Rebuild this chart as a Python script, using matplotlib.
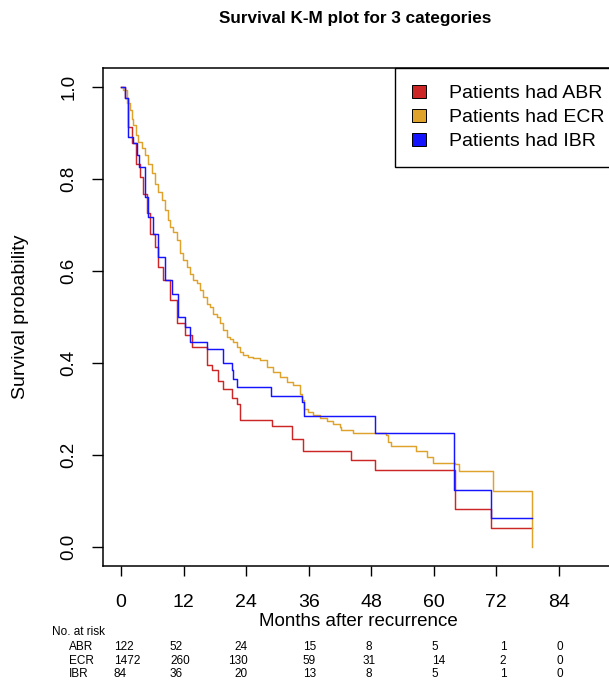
import matplotlib
matplotlib.use('Agg')
import matplotlib.pyplot as plt
from matplotlib.patches import Patch
from matplotlib.transforms import blended_transform_factory

plt.rcParams['font.family'] = ['Liberation Sans', 'DejaVu Sans']

# Kaplan-Meier step points (months, survival)
abr_t = [0, 0.77, 1.40, 2.05, 2.88, 3.64, 4.28, 4.93, 5.56, 6.52, 7.15, 8.11, 9.40, 10.68,
         12.27, 13.56, 16.44, 17.40, 18.66, 19.62, 21.23, 22.19, 22.82, 28.9, 32.74,
         34.96, 44.06, 48.71, 64.06, 70.96, 78.77]
abr_s = [1.0, 0.975, 0.913, 0.877, 0.833, 0.804, 0.768, 0.725, 0.681, 0.652, 0.609, 0.580,
         0.536, 0.486, 0.460, 0.435, 0.395, 0.384, 0.362, 0.344, 0.323, 0.312, 0.277, 0.264,
         0.236, 0.209, 0.190, 0.167, 0.083, 0.041, 0.041]

ecr_t = [0, 0.45, 1.09, 1.73, 2.05, 2.37, 2.88, 3.32, 3.96, 4.60, 5.24, 5.88, 6.52, 7.16,
         7.80, 8.44, 9.08, 9.40, 10.04, 10.68, 11.32, 11.95, 12.59, 13.23, 13.87, 14.51,
         15.15, 15.79, 16.43, 17.07, 17.71, 18.35, 18.99, 19.63, 20.27, 20.91, 21.54, 22.18,
         22.82, 23.46, 24.42, 25.38, 26.66, 27.94, 29.22, 30.49, 31.77, 33.05, 34.33, 34.65,
         35.10, 35.93, 36.89, 38.17, 39.45, 40.72, 42.00, 42.3, 44.56, 50.8, 51.2, 51.78,
         56.58, 58.63, 59.78, 64.06, 64.8, 71.29, 78.77]
ecr_s = [1.0, 0.993, 0.964, 0.949, 0.931, 0.917, 0.895, 0.880, 0.868, 0.852, 0.833, 0.812,
         0.790, 0.772, 0.754, 0.732, 0.710, 0.696, 0.685, 0.667, 0.638, 0.623, 0.609, 0.594,
         0.580, 0.573, 0.558, 0.544, 0.529, 0.522, 0.507, 0.500, 0.486, 0.471, 0.457, 0.453,
         0.446, 0.435, 0.424, 0.417, 0.413, 0.410, 0.406, 0.391, 0.380, 0.370, 0.359, 0.352,
         0.333, 0.319, 0.301, 0.294, 0.286, 0.281, 0.275, 0.268, 0.261, 0.255, 0.249, 0.243,
         0.228, 0.220, 0.208, 0.196, 0.183, 0.180, 0.165, 0.123, 0.0]

ibr_t = [0, 0.77, 1.40, 2.36, 3.01, 3.51, 4.60, 5.24, 6.19, 7.15, 8.44, 9.72, 10.99, 12.27,
         13.23, 16.44, 19.50, 19.62, 21.23, 21.54, 22.30, 28.77, 34.65, 35.10, 48.71, 63.9,
         70.96, 78.77]
ibr_s = [1.0, 0.975, 0.891, 0.877, 0.852, 0.826, 0.761, 0.717, 0.681, 0.630, 0.580, 0.551,
         0.500, 0.478, 0.446, 0.431, 0.415, 0.399, 0.384, 0.366, 0.348, 0.329, 0.315, 0.285,
         0.249, 0.125, 0.063, 0.063]

groups = ['ABR', 'ECR', 'IBR']
legend_labels = ['Patients had ABR', 'Patients had ECR', 'Patients had IBR']
colors = ['#CD2626', '#DFA22A', '#1414FF']

risk_times = [0, 12, 24, 36, 48, 60, 72, 84]
risk_abr = [122, 52, 24, 15, 8, 5, 1, 0]
risk_ecr = [1472, 260, 130, 59, 31, 14, 2, 0]
risk_ibr = [84, 36, 20, 13, 8, 5, 1, 0]

W, H = 609, 688
fig = plt.figure(figsize=(W / 100, H / 100), dpi=100)
ax = fig.add_axes([103 / W, 1 - 566 / H, (612 - 103) / W, (566 - 68) / H])

for t, s, c in zip([abr_t, ecr_t, ibr_t], [abr_s, ecr_s, ibr_s], colors):
    ax.step(t, s, where='post', color=c, linewidth=1.05)

ax.set_xlim(-3.45, 94.2)
ax.set_ylim(-0.041, 1.041)
ax.set_xticks(risk_times)
ax.set_yticks([0.0, 0.2, 0.4, 0.6, 0.8, 1.0])
ax.set_yticklabels(['0.0', '0.2', '0.4', '0.6', '0.8', '1.0'])
ax.tick_params(axis='x', direction='out', length=7.5, width=1.0, pad=13, labelsize=14)
ax.tick_params(axis='y', direction='out', length=8, width=1.0, pad=10.5, labelsize=13.5,
               labelrotation=90)
for lbl in ax.get_yticklabels():
    lbl.set_va('center')
for sp in ax.spines.values():
    sp.set_linewidth(1.1)

fig.text(355 / W, 1 - 19 / H, 'Survival K-M plot for 3 categories', ha='center', va='center',
         fontsize=12.3, fontweight='bold')
fig.text(21 / W, 1 - 317 / H, 'Survival probability', rotation=90, ha='center', va='center',
         fontsize=14)
fig.text(358 / W, 1 - 621 / H, 'Months after recurrence', ha='center', va='center', fontsize=13.5)

handles = [Patch(facecolor=c, edgecolor='black', linewidth=0.7) for c in colors]
leg = ax.legend(handles, legend_labels, loc='upper left', bbox_to_anchor=((395 - 103) / 509, 1.0),
                borderaxespad=0, fancybox=False, edgecolor='black', framealpha=1, fontsize=14,
                handlelength=0.75, handleheight=0.65, handletextpad=1.2, labelspacing=0.36,
                borderpad=0.85)
leg.get_frame().set_linewidth(1.0)

# number at risk table under the axis
tr = blended_transform_factory(ax.transData, fig.transFigure)
risk_x = [-1.34, 9.40, 24.36, 34.9, 47.6, 59.65, 73.3, 84.2]
risk_ha = ['left', 'left', 'right', 'left', 'center', 'left', 'center', 'center']
row_y = [1 - 647 / H, 1 - 660.5 / H, 1 - 674 / H]
fig.text(52 / W, 1 - 632 / H, 'No. at risk', ha='left', va='center', fontsize=8.5)
for name, counts, y in zip(groups, [risk_abr, risk_ecr, risk_ibr], row_y):
    fig.text(69 / W, y, name, ha='left', va='center', fontsize=8.5)
    for x, ha, n in zip(risk_x, risk_ha, counts):
        ax.text(x, y, str(n), transform=tr, ha=ha, va='center', fontsize=8.5)

fig.savefig('out.png', dpi=100)
